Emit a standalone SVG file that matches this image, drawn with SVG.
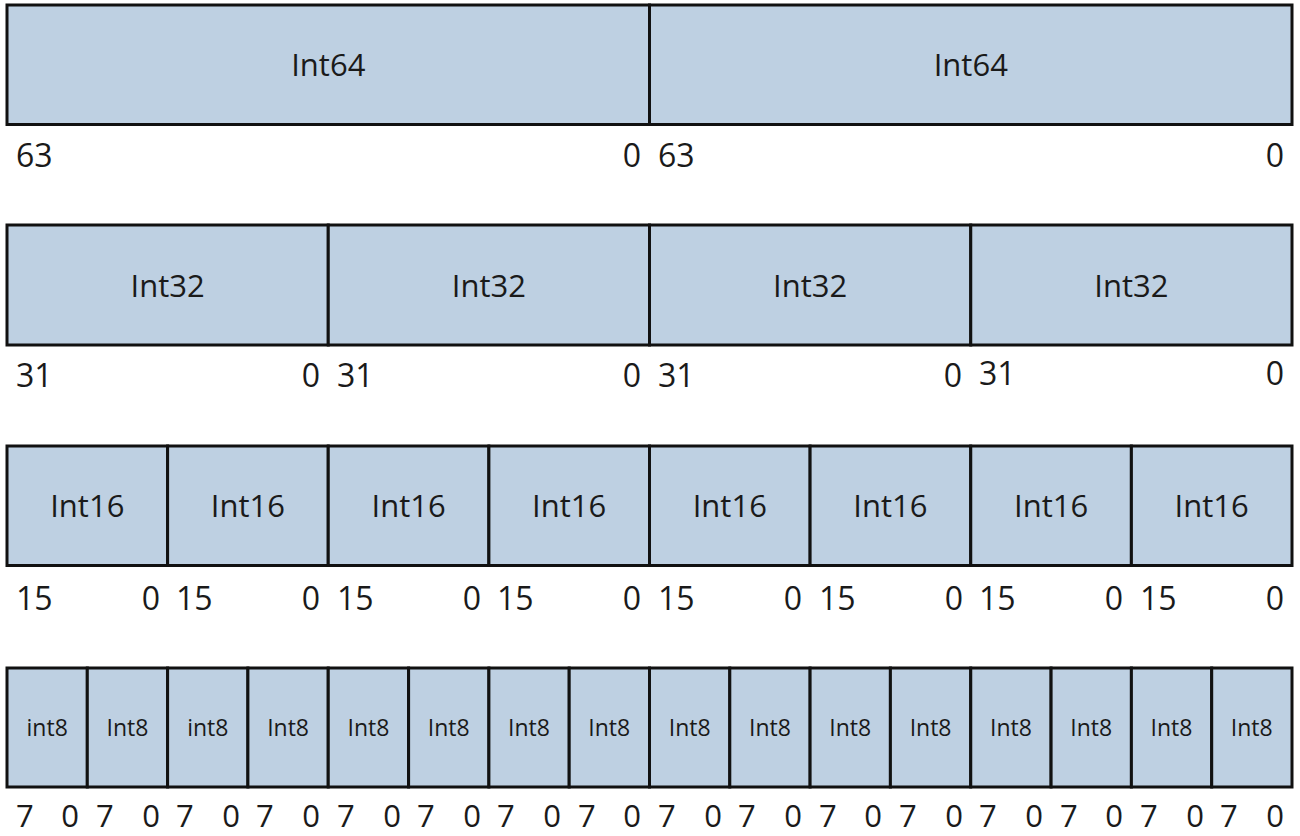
<svg xmlns="http://www.w3.org/2000/svg" width="1300" height="836" viewBox="0 0 1300 836">
<style>
.b{fill:#bed0e2;stroke:#111;stroke-width:3}
.t{font-family:"Open Sans","Liberation Sans",sans-serif;font-size:31px;fill:#1a1a1a;text-anchor:middle}
.s{font-family:"Open Sans","Liberation Sans",sans-serif;font-size:23px;fill:#1a1a1a;text-anchor:middle}
.l{font-family:"Open Sans","Liberation Sans",sans-serif;font-size:32px;fill:#1a1a1a}
.r{text-anchor:end}
.e{font-size:31px}
</style>
<rect width="1300" height="836" fill="#fff"/>
<g id="row64">
<g id="i64a"><rect class="b" x="7" y="5" width="642.5" height="119.5"/><text class="t" x="328.3" y="76">Int64</text><text class="l" x="16" y="167">63</text><text class="l r" x="641" y="167">0</text></g>
<g id="i64b"><rect class="b" x="649.5" y="5" width="642.5" height="119.5"/><text class="t" x="970.8" y="76">Int64</text><text class="l" x="658" y="167">63</text><text class="l r" x="1284" y="167">0</text></g>
</g>
<g id="row32">
<g id="i32a"><rect class="b" x="7" y="225" width="321.25" height="120"/><text class="t" x="167.6" y="297">Int32</text><text class="l" x="16" y="387">31</text><text class="l r" x="320" y="387">0</text></g>
<g id="i32b"><rect class="b" x="328.25" y="225" width="321.25" height="120"/><text class="t" x="488.9" y="297">Int32</text><text class="l" x="337" y="387">31</text><text class="l r" x="641" y="387">0</text></g>
<g id="i32c"><rect class="b" x="649.5" y="225" width="321.25" height="120"/><text class="t" x="810.1" y="297">Int32</text><text class="l" x="658" y="387">31</text><text class="l r" x="962" y="387">0</text></g>
<g id="i32d"><rect class="b" x="970.75" y="225" width="321.25" height="120"/><text class="t" x="1131.4" y="297">Int32</text><text class="l" x="979" y="385">31</text><text class="l r" x="1284" y="385">0</text></g>
</g>
<g id="row16">
<g id="i16a"><rect class="b" x="7" y="446" width="160.6" height="119.5"/><text class="t" x="87.3" y="517">Int16</text><text class="l" x="16" y="610">15</text><text class="l r" x="160" y="610">0</text></g>
<g id="i16b"><rect class="b" x="167.6" y="446" width="160.6" height="119.5"/><text class="t" x="247.9" y="517">Int16</text><text class="l" x="176" y="610">15</text><text class="l r" x="320" y="610">0</text></g>
<g id="i16c"><rect class="b" x="328.25" y="446" width="160.6" height="119.5"/><text class="t" x="408.6" y="517">Int16</text><text class="l" x="337" y="610">15</text><text class="l r" x="481" y="610">0</text></g>
<g id="i16d"><rect class="b" x="488.9" y="446" width="160.6" height="119.5"/><text class="t" x="569.2" y="517">Int16</text><text class="l" x="497" y="610">15</text><text class="l r" x="641" y="610">0</text></g>
<g id="i16e"><rect class="b" x="649.5" y="446" width="160.6" height="119.5"/><text class="t" x="729.8" y="517">Int16</text><text class="l" x="658" y="610">15</text><text class="l r" x="802" y="610">0</text></g>
<g id="i16f"><rect class="b" x="810.1" y="446" width="160.6" height="119.5"/><text class="t" x="890.4" y="517">Int16</text><text class="l" x="819" y="610">15</text><text class="l r" x="963" y="610">0</text></g>
<g id="i16g"><rect class="b" x="970.75" y="446" width="160.6" height="119.5"/><text class="t" x="1051.1" y="517">Int16</text><text class="l" x="979" y="610">15</text><text class="l r" x="1123" y="610">0</text></g>
<g id="i16h"><rect class="b" x="1131.4" y="446" width="160.6" height="119.5"/><text class="t" x="1211.7" y="517">Int16</text><text class="l" x="1140" y="610">15</text><text class="l r" x="1284" y="610">0</text></g>
</g>
<g id="row8">
<g id="i8a"><rect class="b" x="7" y="668" width="80.3" height="119"/><text class="s" x="47.2" y="736">int8</text><text class="l e" x="16" y="827">7</text><text class="l e r" x="79" y="827">0</text></g>
<g id="i8b"><rect class="b" x="87.3" y="668" width="80.3" height="119"/><text class="s" x="127.5" y="736">Int8</text><text class="l e" x="96" y="827">7</text><text class="l e r" x="160" y="827">0</text></g>
<g id="i8c"><rect class="b" x="167.6" y="668" width="80.3" height="119"/><text class="s" x="207.8" y="736">int8</text><text class="l e" x="176" y="827">7</text><text class="l e r" x="240" y="827">0</text></g>
<g id="i8d"><rect class="b" x="247.9" y="668" width="80.3" height="119"/><text class="s" x="288.1" y="736">Int8</text><text class="l e" x="256" y="827">7</text><text class="l e r" x="320" y="827">0</text></g>
<g id="i8e"><rect class="b" x="328.25" y="668" width="80.3" height="119"/><text class="s" x="368.4" y="736">Int8</text><text class="l e" x="337" y="827">7</text><text class="l e r" x="401" y="827">0</text></g>
<g id="i8f"><rect class="b" x="408.6" y="668" width="80.3" height="119"/><text class="s" x="448.7" y="736">Int8</text><text class="l e" x="417" y="827">7</text><text class="l e r" x="481" y="827">0</text></g>
<g id="i8g"><rect class="b" x="488.9" y="668" width="80.3" height="119"/><text class="s" x="529" y="736">Int8</text><text class="l e" x="497" y="827">7</text><text class="l e r" x="561" y="827">0</text></g>
<g id="i8h"><rect class="b" x="569.2" y="668" width="80.3" height="119"/><text class="s" x="609.3" y="736">Int8</text><text class="l e" x="578" y="827">7</text><text class="l e r" x="641" y="827">0</text></g>
<g id="i8i"><rect class="b" x="649.5" y="668" width="80.3" height="119"/><text class="s" x="689.7" y="736">Int8</text><text class="l e" x="658" y="827">7</text><text class="l e r" x="722" y="827">0</text></g>
<g id="i8j"><rect class="b" x="729.8" y="668" width="80.3" height="119"/><text class="s" x="770" y="736">Int8</text><text class="l e" x="738" y="827">7</text><text class="l e r" x="802" y="827">0</text></g>
<g id="i8k"><rect class="b" x="810.1" y="668" width="80.3" height="119"/><text class="s" x="850.3" y="736">Int8</text><text class="l e" x="819" y="827">7</text><text class="l e r" x="882" y="827">0</text></g>
<g id="i8l"><rect class="b" x="890.4" y="668" width="80.3" height="119"/><text class="s" x="930.6" y="736">Int8</text><text class="l e" x="899" y="827">7</text><text class="l e r" x="963" y="827">0</text></g>
<g id="i8m"><rect class="b" x="970.75" y="668" width="80.3" height="119"/><text class="s" x="1010.9" y="736">Int8</text><text class="l e" x="979" y="827">7</text><text class="l e r" x="1043" y="827">0</text></g>
<g id="i8n"><rect class="b" x="1051.1" y="668" width="80.3" height="119"/><text class="s" x="1091.2" y="736">Int8</text><text class="l e" x="1060" y="827">7</text><text class="l e r" x="1123" y="827">0</text></g>
<g id="i8o"><rect class="b" x="1131.4" y="668" width="80.3" height="119"/><text class="s" x="1171.5" y="736">Int8</text><text class="l e" x="1140" y="827">7</text><text class="l e r" x="1204" y="827">0</text></g>
<g id="i8p"><rect class="b" x="1211.7" y="668" width="80.3" height="119"/><text class="s" x="1251.8" y="736">Int8</text><text class="l e" x="1220" y="827">7</text><text class="l e r" x="1284" y="827">0</text></g>
</g>
<g id="connectors"/>
</svg>
